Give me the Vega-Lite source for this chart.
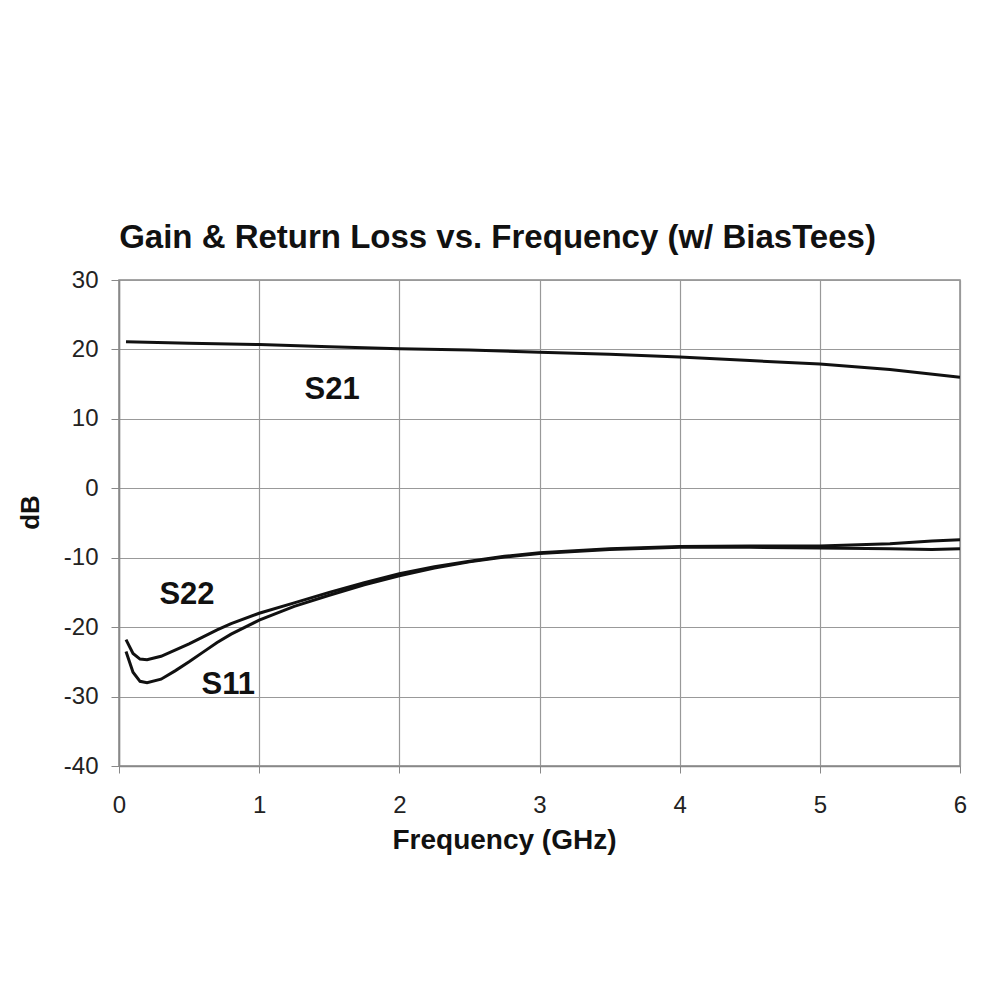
{
  "$schema": "https://vega.github.io/schema/vega-lite/v6.json",
  "width": 841,
  "height": 486,
  "autosize": "none",
  "padding": {"left": 119, "top": 280, "right": 41, "bottom": 235},
  "background": "white",
  "config": {
    "font": "Liberation Sans",
    "view": {"stroke": "#888888", "strokeWidth": 1.5}
  },
  "title": {
    "text": "Gain & Return Loss vs. Frequency (w/ BiasTees)",
    "fontSize": 33,
    "fontWeight": "bold",
    "font": "Liberation Sans",
    "color": "#111111",
    "anchor": "middle",
    "offset": 13,
    "dx": -42
  },
  "datasets": {
    "curves": [
      {"f": 0.05, "db": 21.1, "s": "S21"},
      {"f": 0.5, "db": 20.9, "s": "S21"},
      {"f": 1.0, "db": 20.7, "s": "S21"},
      {"f": 1.5, "db": 20.4, "s": "S21"},
      {"f": 2.0, "db": 20.1, "s": "S21"},
      {"f": 2.5, "db": 19.9, "s": "S21"},
      {"f": 3.0, "db": 19.6, "s": "S21"},
      {"f": 3.5, "db": 19.3, "s": "S21"},
      {"f": 4.0, "db": 18.9, "s": "S21"},
      {"f": 4.5, "db": 18.4, "s": "S21"},
      {"f": 5.0, "db": 17.9, "s": "S21"},
      {"f": 5.5, "db": 17.1, "s": "S21"},
      {"f": 6.0, "db": 16.0, "s": "S21"},
      {"f": 0.05, "db": -21.8, "s": "S22"},
      {"f": 0.1, "db": -23.8, "s": "S22"},
      {"f": 0.15, "db": -24.6, "s": "S22"},
      {"f": 0.2, "db": -24.7, "s": "S22"},
      {"f": 0.3, "db": -24.2, "s": "S22"},
      {"f": 0.4, "db": -23.3, "s": "S22"},
      {"f": 0.5, "db": -22.4, "s": "S22"},
      {"f": 0.6, "db": -21.4, "s": "S22"},
      {"f": 0.7, "db": -20.4, "s": "S22"},
      {"f": 0.8, "db": -19.5, "s": "S22"},
      {"f": 1.0, "db": -18.0, "s": "S22"},
      {"f": 1.25, "db": -16.5, "s": "S22"},
      {"f": 1.5, "db": -15.0, "s": "S22"},
      {"f": 1.75, "db": -13.6, "s": "S22"},
      {"f": 2.0, "db": -12.3, "s": "S22"},
      {"f": 2.25, "db": -11.3, "s": "S22"},
      {"f": 2.5, "db": -10.5, "s": "S22"},
      {"f": 2.75, "db": -9.8, "s": "S22"},
      {"f": 3.0, "db": -9.3, "s": "S22"},
      {"f": 3.5, "db": -8.7, "s": "S22"},
      {"f": 4.0, "db": -8.4, "s": "S22"},
      {"f": 4.5, "db": -8.3, "s": "S22"},
      {"f": 5.0, "db": -8.3, "s": "S22"},
      {"f": 5.5, "db": -8.0, "s": "S22"},
      {"f": 5.8, "db": -7.6, "s": "S22"},
      {"f": 6.0, "db": -7.4, "s": "S22"},
      {"f": 0.05, "db": -23.5, "s": "S11"},
      {"f": 0.1, "db": -26.5, "s": "S11"},
      {"f": 0.15, "db": -27.8, "s": "S11"},
      {"f": 0.2, "db": -28.0, "s": "S11"},
      {"f": 0.3, "db": -27.5, "s": "S11"},
      {"f": 0.4, "db": -26.3, "s": "S11"},
      {"f": 0.5, "db": -25.0, "s": "S11"},
      {"f": 0.6, "db": -23.6, "s": "S11"},
      {"f": 0.7, "db": -22.2, "s": "S11"},
      {"f": 0.8, "db": -21.0, "s": "S11"},
      {"f": 1.0, "db": -19.0, "s": "S11"},
      {"f": 1.25, "db": -17.0, "s": "S11"},
      {"f": 1.5, "db": -15.4, "s": "S11"},
      {"f": 1.75, "db": -13.9, "s": "S11"},
      {"f": 2.0, "db": -12.6, "s": "S11"},
      {"f": 2.25, "db": -11.5, "s": "S11"},
      {"f": 2.5, "db": -10.6, "s": "S11"},
      {"f": 2.75, "db": -9.9, "s": "S11"},
      {"f": 3.0, "db": -9.4, "s": "S11"},
      {"f": 3.5, "db": -8.8, "s": "S11"},
      {"f": 4.0, "db": -8.5, "s": "S11"},
      {"f": 4.5, "db": -8.5, "s": "S11"},
      {"f": 5.0, "db": -8.6, "s": "S11"},
      {"f": 5.5, "db": -8.7, "s": "S11"},
      {"f": 5.8, "db": -8.8, "s": "S11"},
      {"f": 6.0, "db": -8.7, "s": "S11"}
    ],
    "labels": [
      {"f": 1.52, "db": 14.2, "t": "S21"},
      {"f": 0.485, "db": -15.4, "t": "S22"},
      {"f": 0.78, "db": -28.3, "t": "S11"}
    ]
  },
  "layer": [
    {
      "data": {"name": "curves"},
      "mark": {"type": "line", "color": "#111111", "strokeWidth": 3, "clip": true},
      "encoding": {
        "x": {
          "field": "f", "type": "quantitative",
          "scale": {"domain": [0, 6], "nice": false, "zero": false},
          "axis": {
            "title": "Frequency (GHz)",
            "titleFontSize": 28, "titleFontWeight": "bold", "titleColor": "#111111",
            "titleX": 385, "titleY": 74, "titleBaseline": "middle", "titleAlign": "center",
            "values": [0, 1, 2, 3, 4, 5, 6],
            "labelFontSize": 24, "labelColor": "#222222", "labelPadding": 20, "labelFlush": false,
            "tickSize": 7, "tickColor": "#888888",
            "domainColor": "#888888", "domainWidth": 1.5,
            "gridColor": "#999999", "gridWidth": 1.2, "gridOpacity": 1,
            "format": "d"
          }
        },
        "y": {
          "field": "db", "type": "quantitative",
          "scale": {"domain": [-40, 30], "nice": false, "zero": false},
          "axis": {
            "title": "dB",
            "titleFontSize": 26, "titleFontWeight": "bold", "titleColor": "#111111",
            "titleX": -89, "titleY": 232, "titleBaseline": "middle", "titleAlign": "center", "titleAngle": 270,
            "values": [-40, -30, -20, -10, 0, 10, 20, 30],
            "labelFontSize": 24, "labelColor": "#222222", "labelPadding": 13, "labelFlush": false,
            "labelExpr": "replace(datum.label, '\u2212', '-')",
            "tickSize": 8, "tickColor": "#888888",
            "domainColor": "#888888", "domainWidth": 1.5,
            "gridColor": "#999999", "gridWidth": 1.2, "gridOpacity": 1
          }
        },
        "detail": {"field": "s", "type": "nominal"}
      }
    },
    {
      "data": {"name": "labels"},
      "mark": {"type": "text", "fontSize": 31, "fontWeight": "bold", "color": "#111111", "font": "Liberation Sans"},
      "encoding": {
        "x": {"field": "f", "type": "quantitative"},
        "y": {"field": "db", "type": "quantitative"},
        "text": {"field": "t"}
      }
    }
  ]
}
